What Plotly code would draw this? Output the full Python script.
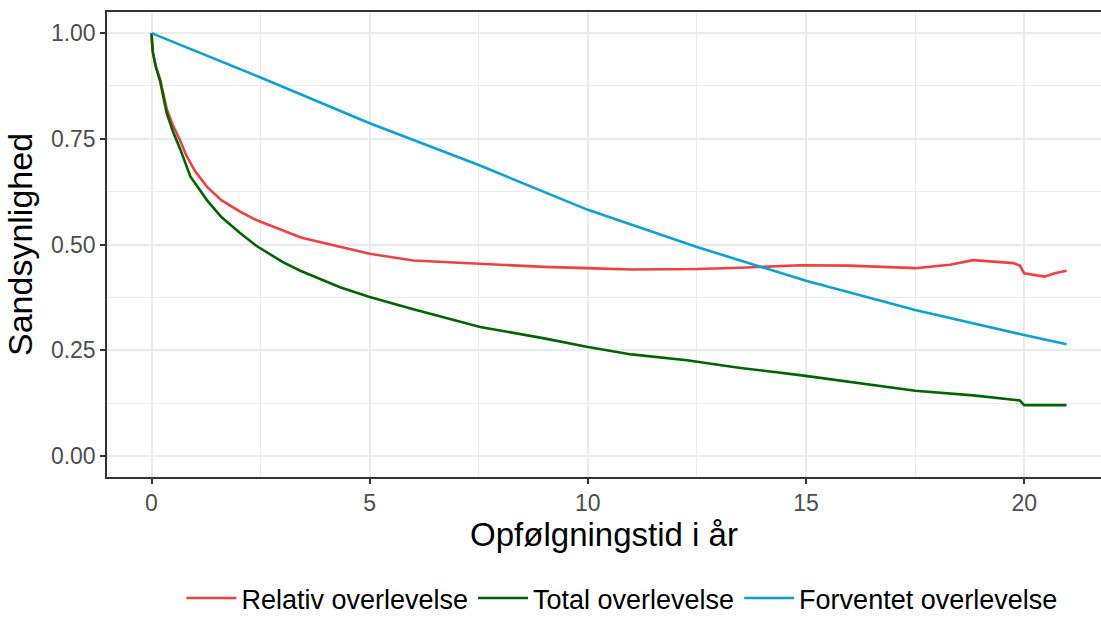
import plotly.graph_objects as go

# ---- data ----
rel_t = [0, 0.02, 0.1, 0.2, 0.35, 0.5, 0.66, 0.8, 1.0, 1.27, 1.6, 2.03, 2.4, 2.79, 3.0, 3.41, 3.56,
         4.32, 5.0, 6.0, 7.53, 9.0, 9.97, 11.0, 12.5, 13.5, 14.86, 16.0, 17.5, 18.3, 18.83, 19.4,
         19.75, 19.9, 20.0, 20.47, 20.7, 20.97]
rel_s = [1.0, 0.96, 0.92, 0.89, 0.82, 0.78, 0.745, 0.71, 0.673, 0.637, 0.605, 0.578, 0.558, 0.542,
         0.533, 0.517, 0.513, 0.495, 0.478, 0.462, 0.454, 0.447, 0.444, 0.441, 0.442, 0.445, 0.451,
         0.450, 0.444, 0.452, 0.463, 0.459, 0.456, 0.450, 0.432, 0.424, 0.432, 0.438]

tot_t = [0, 0.03, 0.1, 0.2, 0.35, 0.5, 0.66, 0.89, 1.0, 1.27, 1.6, 2.03, 2.4, 2.79, 3.0, 3.41,
         4.32, 5.0, 6.0, 7.53, 9.0, 9.97, 11.0, 12.27, 13.5, 14.86, 16.0, 17.5, 18.83, 19.9,
         20.0, 20.97]
tot_s = [1.0, 0.955, 0.92, 0.885, 0.81, 0.765, 0.725, 0.661, 0.645, 0.605, 0.565, 0.527, 0.497,
         0.471, 0.459, 0.438, 0.399, 0.376, 0.347, 0.305, 0.278, 0.258, 0.240, 0.226, 0.208,
         0.191, 0.175, 0.154, 0.143, 0.131, 0.120, 0.120]

exp_t = [0, 2.5, 5, 7.5, 10, 12.5, 15, 17.5, 20, 20.97]
exp_s = [1.0, 0.895, 0.787, 0.688, 0.582, 0.494, 0.414, 0.345, 0.286, 0.264]

names = ["Relativ overlevelse", "Total overlevelse", "Forventet overlevelse"]
colors = ["#F0403F", "#006400", "#0AA0D8"]

x_ticks = [0, 5, 10, 15, 20]
y_ticks = [0.0, 0.25, 0.5, 0.75, 1.0]
y_ticklabels = ["0.00", "0.25", "0.50", "0.75", "1.00"]

fig = go.Figure()
for t, s, n, c in zip([rel_t, tot_t, exp_t], [rel_s, tot_s, exp_s], names, colors):
    fig.add_trace(go.Scatter(x=t, y=s, mode="lines", name=n,
                             line=dict(color=c, width=2.6)))

axis_font = dict(family="Arial, Liberation Sans", size=23, color="#4D4D4D")
xtitle_font = dict(family="Arial, Liberation Sans", size=33, color="#000000")
ytitle_font = dict(family="Arial, Liberation Sans", size=34, color="#000000")

fig.update_layout(
    width=1101, height=623,
    margin=dict(l=107, r=0, t=12, b=146),
    paper_bgcolor="white", plot_bgcolor="white",
    showlegend=True,
    legend=dict(orientation="h", x=0.518, xanchor="center",
                yref="container", y=-0.013, yanchor="bottom",
                itemwidth=50,
                font=dict(family="Arial, Liberation Sans", size=27, color="#000000"),
                bgcolor="rgba(0,0,0,0)"),
    xaxis=dict(range=[-1.02, 21.76], tickvals=x_ticks, ticks="outside", ticklen=5,
               tickcolor="#333333", tickwidth=1.5, tickfont=axis_font,
               showgrid=True, gridcolor="#EBEBEB", gridwidth=1.6,
               minor=dict(dtick=2.5, showgrid=True, gridcolor="#EBEBEB", gridwidth=1),
               showline=True, linecolor="#333333", linewidth=1.5, mirror=True,
               zeroline=False, automargin=False,
               title=dict(text="Opfølgningstid i år", font=xtitle_font, standoff=8)),
    yaxis=dict(range=[-0.05, 1.05], tickvals=y_ticks, ticktext=y_ticklabels,
               ticks="outside", ticklen=5, tickcolor="#333333", tickwidth=1.5,
               tickfont=axis_font,
               showgrid=True, gridcolor="#EBEBEB", gridwidth=1.6,
               minor=dict(dtick=0.125, showgrid=True, gridcolor="#EBEBEB", gridwidth=1),
               showline=True, linecolor="#333333", linewidth=1.5, mirror=False,
               zeroline=False, automargin=False,
               title=dict(text="Sandsynlighed", font=ytitle_font, standoff=8)),
)

fig.write_html("out.html")
